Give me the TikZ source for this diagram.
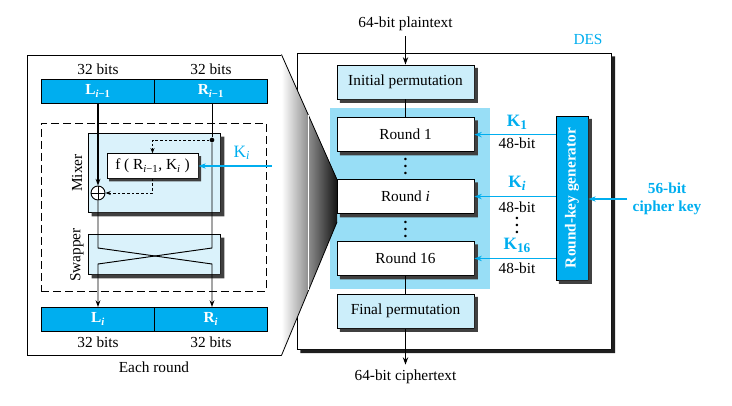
\documentclass[tikz,border=0pt]{standalone}
\usepackage{fontspec}
\setmainfont{Liberation Serif}
\usepackage{tikz}
\usetikzlibrary{shapes.geometric, arrows}
\usetikzlibrary{positioning}
\usetikzlibrary{arrows.meta}
\definecolor{desblue}{RGB}{0,174,239}
\definecolor{paleblue}{RGB}{204,238,250}
\definecolor{mixblue}{RGB}{218,242,251}
\definecolor{roundsbg}{RGB}{152,222,246}
\definecolor{shadowgray}{RGB}{64,64,64}
\definecolor{desshadow}{RGB}{30,30,30}
\newcommand{\ksub}[1]{\raisebox{-0.4ex}{\fontsize{10}{12}\selectfont #1}}
\newcommand{\dotcolumn}{\vbox{\baselineskip=5.4pt\lineskiplimit=-10pt\hbox{.}\hbox{.}\hbox{.}}}
% shadow strip to the right of and below a box
\newcommand{\dropshade}[3][shadowgray]{\fill [#1] ([yshift=-#3]#2.north east) -- ([xshift=#3, yshift=-#3]#2.north east) -- ([xshift=#3, yshift=-#3]#2.south east) -- ([xshift=#3, yshift=-#3]#2.south west) -- ([xshift=#3]#2.south west) -- (#2.south east) -- cycle;}
\tikzstyle{perm} = [draw=black, fill=paleblue, line width=0.7pt, minimum width=102.75pt, minimum height=25.5pt]
\tikzstyle{roundbox} = [draw=black, fill=white, line width=0.7pt, minimum width=102.75pt, minimum height=25.5pt]
\tikzstyle{halfbar} = [draw=black, fill=desblue, line width=0.7pt, minimum width=84.75pt, minimum height=18pt, outer sep=0pt, text=white, font=\bfseries]
\tikzstyle{mixbox} = [draw=black, fill=mixblue, line width=0.7pt, minimum width=99pt]
\tikzstyle{fnbox} = [draw=black, fill=white, line width=0.7pt, minimum width=68.25pt, minimum height=18pt]
\tikzstyle{xorgate} = [circle, draw=black, fill=white, line width=0.7pt, minimum size=10.5pt, inner sep=0pt, path picture={\draw [line width=0.6pt] (path picture bounding box.north) -- (path picture bounding box.south) (path picture bounding box.west) -- (path picture bounding box.east);}]
\tikzstyle{tapdot} = [circle, fill=black, minimum size=3.5pt, inner sep=0pt]
\tikzstyle{keygen} = [draw=black, fill=desblue, line width=0.7pt, minimum width=24pt, minimum height=123pt, inner sep=0pt, text=white, font=\bfseries]
\tikzstyle{keytext} = [text=desblue, font=\bfseries]
\tikzstyle{keyname} = [text=desblue, font=\fontsize{13}{15}\selectfont\bfseries, inner sep=1pt]
\tikzstyle{vdotsnode} = [inner sep=0pt, font=\bfseries]
\tikzstyle{arrow} = [line width=0.7pt, -{Stealth[length=5pt, width=3.6pt]}]
\tikzstyle{thickarrow} = [line width=1.1pt, -{Stealth[length=5.5pt, width=4pt]}]
\tikzstyle{dasharrow} = [line width=0.6pt, dash pattern=on 2pt off 1.5pt, -{Stealth[length=4pt, width=3pt]}]
\tikzstyle{keyarrow} = [draw=desblue, line width=1.1pt, -{Stealth[length=5.5pt, width=4pt]}]

\begin{document}
\fontsize{11.5}{14}\selectfont
\begin{tikzpicture}[x=0.75pt, y=-0.75pt, node distance=1cm]
\useasboundingbox (0,0) rectangle (732,406);

% one round
\node (frame) [draw=black, line width=0.7pt, minimum width=190.5pt, minimum height=225pt] at (154,205) {};
\node (lprev) [halfbar] at (98,91) {L\textsubscript{\textit{i}−1}};
\node (rprev) [halfbar, right=0pt of lprev] {R\textsubscript{\textit{i}−1}};
\node (bitsl) [above=-1pt of lprev] {32 bits};
\node (bitsr) [above=-1pt of rprev] {32 bits};
\node (dashbox) [draw=black, line width=0.7pt, dash pattern=on 6pt off 3pt, minimum width=168.75pt, minimum height=126pt] at (153.5,207) {};
\node (mixer) [mixbox, minimum height=59.25pt] at (154,172.5) {};
\dropshade{mixer}{3pt}
\node (swapper) [mixbox, minimum height=30pt] at (154,254) {};
\dropshade{swapper}{3pt}
\node (fbox) [fnbox] at (152.5,166) {f ( R\textsubscript{\textit{i}−1}, K\textsubscript{\textit{i}} )};
\dropshade{fbox}{2pt}
\node (xor) [xorgate] at (98,193) {};
\node (tap) [tapdot] at (212,140) {};
\node (mixlabel) [rotate=90] at (77,173) {Mixer};
\node (swaplabel) [rotate=90] at (77,255) {Swapper};
\node (ki) [text=desblue, font=\fontsize{13}{15}\selectfont] at (242,153) {K\textsubscript{\textit{i}}};
\coordinate (kin) at (272,166);
\node (li) [halfbar] at (98,319) {L\textsubscript{\textit{i}}};
\node (ri) [halfbar, right=0pt of li] {R\textsubscript{\textit{i}}};
\node (bitsli) [below=0pt of li] {32 bits};
\node (bitsri) [below=0pt of ri] {32 bits};
\node (each) [below=1pt of frame] {Each round};
\coordinate (crossla) at (98,248);
\coordinate (crosslb) at (98,264);
\coordinate (crossra) at (212,248);
\coordinate (crossrb) at (212,264);

\draw [line width=1.4pt, -{Stealth[length=5pt, width=3.6pt]}] (xor |- lprev.south) -- (xor.north);
\draw [line width=0.7pt] (tap |- rprev.south) -- (tap);
\draw [arrow] (xor.south) -- (crossla) -- (crossrb) -- (crossrb |- ri.north);
\draw [arrow] (tap) -- (crossra) -- (crosslb) -- (crosslb |- li.north);
\draw [dasharrow] (tap) -| (fbox.north);
\draw [dasharrow] (fbox.south) |- (xor.east);
\draw [keyarrow] (kin) -- (fbox.east);

% DES
\node (des) [draw=black, fill=white, line width=0.7pt, minimum width=235.5pt, minimum height=222pt] at (454,201) {};
\dropshade[desshadow]{des}{2.8pt}
\node (rounds) [fill=roundsbg, minimum width=120pt, minimum height=135.75pt] at (410,198.5) {};
\coordinate (zoomtop) at (337,179.5);
\coordinate (zoombot) at (337,222);
\shade [left color=white, right color=black!92] (frame.north east) -- (zoomtop) -- (zoombot) -- (frame.south east) -- cycle;
\draw [line width=0.6pt] (frame.north east) -- (zoomtop);
\draw [line width=0.6pt] (frame.south east) -- (zoombot);
\draw [white, line width=0.6pt] (308,115) -- (308,290);

\node (plain) at (405.5,24) {64-bit plaintext};
\node (ip) [perm] at (405.5,82) {Initial permutation};
\node (r1) [roundbox, below of=ip, yshift=-11pt] {Round 1};
\node (rmid) [roundbox, below of=r1, yshift=-18pt] {Round \textit{i}};
\node (r16) [roundbox, below of=rmid, yshift=-18pt] {Round 16};
\node (fp) [perm, below of=r16, yshift=-11pt] {Final permutation};
\dropshade{ip}{2.5pt}
\dropshade{r1}{2.5pt}
\dropshade{rmid}{2.5pt}
\dropshade{r16}{2.5pt}
\dropshade{fp}{2.5pt}
\node (cipher) at (405.5,377) {64-bit ciphertext};
\node (dotsa) [vdotsnode] at (405.5,166.5) {\dotcolumn};
\node (dotsb) [vdotsnode] at (405.5,229.5) {\dotcolumn};

\node (deslabel) [text=desblue] at (588,40) {DES};
\node (keygen) [keygen] at (572,198) {\rotatebox{90}{Round-key generator}};
\dropshade{keygen}{2.5pt}
\node (k1) [keyname] at (517,122) {K\ksub{1}};
\node (b1) at (517,143) {48-bit};
\node (kmid) [keyname] at (517,183) {K\ksub{\textit{i}}};
\node (bmid) at (517,207) {48-bit};
\node (dotsk) [vdotsnode] at (517,225.5) {\dotcolumn};
\node (k16) [keyname] at (517,245) {K\ksub{16}};
\node (b16) at (517,268) {48-bit};
\node (ckey) [keytext, align=center] at (667,199) {56-bit\\cipher key};

\draw [thickarrow] (plain) -- (ip);
\draw [line width=1.1pt] (ip) -- (r1);
\draw [line width=1.1pt] (r16) -- (fp);
\draw [thickarrow] (fp) -- (cipher);
\draw [keyarrow] (r1.east -| keygen.west) -- (r1.east);
\draw [keyarrow] (rmid.east -| keygen.west) -- (rmid.east);
\draw [keyarrow] (r16.east -| keygen.west) -- (r16.east);
\draw [keyarrow] (ckey.west) -- (ckey.west -| keygen.east);

\end{tikzpicture}
\end{document}
